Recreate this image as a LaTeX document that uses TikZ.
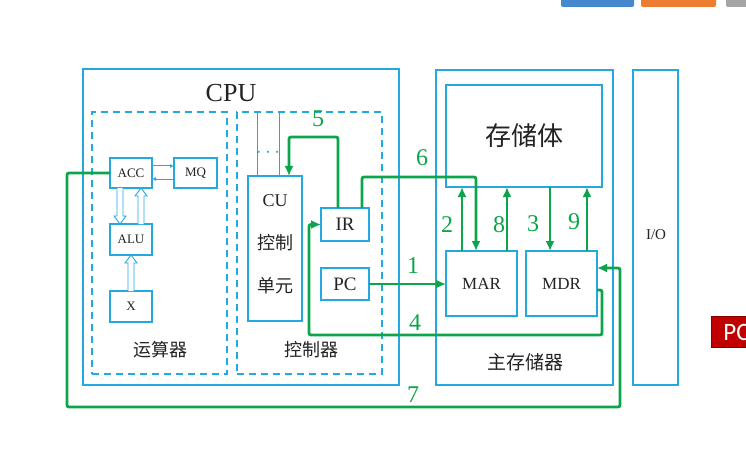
\documentclass[tikz,border=0pt]{standalone}
\usepackage{fontspec}
\setmainfont{Liberation Serif}
\newfontfamily\cjk{Noto Sans CJK SC}
\newfontfamily\slidesans{Carlito}
\usetikzlibrary{arrows.meta,calc}
\definecolor{bl}{RGB}{35,168,224}
\definecolor{gr}{RGB}{12,165,75}
\definecolor{tx}{RGB}{35,35,35}
\definecolor{barblue}{RGB}{68,136,206}
\definecolor{barorange}{RGB}{237,125,49}
\definecolor{bargray}{RGB}{165,165,165}
\definecolor{pcred}{RGB}{192,0,0}
\newcommand\hollowarrow[2]{%
  \draw[hol] let \p1=(#1), \p2=(#2), \n1={sign(\y1-\y2)*8} in
    (\x1-3pt,\y1) -- (\x1-3pt,\y2+\n1*1pt) -- (\x1-6pt,\y2+\n1*1pt) -- (\x2,\y2)
    -- (\x1+6pt,\y2+\n1*1pt) -- (\x1+3pt,\y2+\n1*1pt) -- (\x1+3pt,\y1);}
\begin{document}
\begin{tikzpicture}[x=1pt,y=-1pt,
  big/.style={draw=bl,line width=1.8pt,rectangle,inner sep=0pt,outer sep=0pt},
  reg/.style={draw=bl,line width=1.3pt,rectangle,inner sep=0pt,outer sep=0pt,text=tx},
  dbox/.style={draw=bl,line width=1.4pt,dash pattern=on 7pt off 5pt,rectangle,inner sep=0pt,outer sep=0pt},
  garr/.style={draw=gr,line width=2.8pt,rounded corners=2pt,-{Latex[length=10pt,width=9pt]}},
  num/.style={text=gr,inner sep=0pt,font=\fontsize{24}{24}\selectfont},
  thinarr/.style={draw=bl,line width=1pt,-{Latex[length=4pt,width=4pt]}},
  hol/.style={draw=bl,line width=0.9pt,fill=white},
  lbl/.style={text=tx,inner sep=0pt}
]
\fill[white] (0,0) rectangle (746,449);
\useasboundingbox (0,0) rectangle (746,449);

% slide artifacts
\begin{scope}
\clip (0,0) rectangle (746,449);
\fill[barblue,rounded corners=2pt] (561,-10) rectangle (634,7);
\fill[barorange,rounded corners=2pt] (641,-10) rectangle (716,7);
\fill[bargray,rounded corners=2pt] (726,-10) rectangle (770,7);
\node[fill=pcred,draw=pcred!70!black,line width=0.8pt,anchor=west,minimum height=31pt,
      inner xsep=12pt,text=white,font=\slidesans\fontsize{25}{25}\selectfont] (pcslide) at (711,332) {PC\hspace{20pt}};
\end{scope}

% CPU
\node[big,minimum width=316pt,minimum height=316pt] (cpu) at (241,227) {};
\node[lbl,font=\fontsize{26}{26}\selectfont] (cpulbl) at (231,93) {CPU};
\node[dbox,minimum width=135pt,minimum height=262pt] (alubox) at (159.5,243) {};
\node[dbox,minimum width=145pt,minimum height=262pt] (ctlbox) at (309.5,243) {};
\node[lbl,font=\cjk\fontsize{18}{18}\selectfont] (alulbl) at (160,350) {运算器};
\node[lbl,font=\cjk\fontsize{18}{18}\selectfont] (ctllbl) at (311,350) {控制器};

% ALU side
\node[reg,minimum width=42pt,minimum height=30pt,font=\fontsize{13}{13}\selectfont] (acc) at (131,173) {ACC};
\node[reg,minimum width=43pt,minimum height=30pt,font=\fontsize{13}{13}\selectfont] (mq) at (195.5,173) {MQ};
\node[reg,minimum width=42pt,minimum height=31pt,font=\fontsize{13}{13}\selectfont] (alu) at (131,239.5) {ALU};
\node[reg,minimum width=42pt,minimum height=31pt,font=\fontsize{13}{13}\selectfont] (xreg) at (131,306.5) {X};
\draw[thinarr] ($(acc.east)+(0,-7)$) -- ($(mq.west)+(0,-7)$);
\draw[thinarr] ($(mq.west)+(0,6)$) -- ($(acc.east)+(0,6)$);
\hollowarrow{$(acc.south)+(-11,0)$}{$(alu.north)+(-11,0)$}
\hollowarrow{$(alu.north)+(10,0)$}{$(acc.south)+(10,0)$}
\hollowarrow{$(xreg.north)$}{$(alu.south)$}

% control side
\node[reg,minimum width=54pt,minimum height=145pt] (cu) at (275,248.5) {};
\node[lbl,align=center,font=\fontsize{18}{43}\selectfont] (cutxt) at (275,244) {CU\\{\cjk 控制}\\{\cjk 单元}};
\coordinate (cul) at ($(cu.north west)+(9,0)$);
\coordinate (cur) at ($(cu.north west)+(31,0)$);
\draw[bl,line width=1pt] (cul) -- (cul |- ctlbox.north);
\draw[bl,line width=1pt] (cur) -- (cur |- ctlbox.north);
\node[text=bl,inner sep=0pt,font=\fontsize{20}{20}\selectfont] (dots) at (268,153) {$\cdots$};
\node[reg,minimum width=48pt,minimum height=33pt,font=\fontsize{19}{19}\selectfont] (ir) at (345,224.5) {IR};
\node[reg,minimum width=48pt,minimum height=32pt,font=\fontsize{19}{19}\selectfont] (pc) at (345,284) {PC};

% main memory
\node[big,minimum width=177pt,minimum height=315pt] (mem) at (524.5,227.5) {};
\node[lbl,font=\cjk\fontsize{19}{19}\selectfont] (memlbl) at (525,362) {主存储器};
\node[reg,minimum width=156pt,minimum height=102pt,font=\cjk\fontsize{26}{26}\selectfont] (body) at (524,136) {存储体};
\node[reg,minimum width=71pt,minimum height=65pt,font=\fontsize{17}{17}\selectfont] (mar) at (481.5,283.5) {MAR};
\node[reg,minimum width=71pt,minimum height=65pt,font=\fontsize{17}{17}\selectfont] (mdr) at (561.5,283.5) {MDR};

% I/O
\node[big,minimum width=45pt,minimum height=315pt] (io) at (655.5,227.5) {};
\node[lbl,font=\fontsize{15}{15}\selectfont] (iolbl) at (656,235) {I/O};

% green connectors
\coordinate (a2) at ($(mar.north west)+(16,0)$);
\coordinate (a6) at ($(mar.north west)+(30,0)$);
\coordinate (a8) at ($(mar.north west)+(61,0)$);
\coordinate (a3) at ($(mdr.north west)+(24,0)$);
\coordinate (a9) at ($(mdr.north west)+(61,0)$);
\draw[garr] (pc.east) -- (pc.east -| mar.west);
\draw[garr] (a2) -- (a2 |- body.south);
\draw[garr] (a8) -- (a8 |- body.south);
\draw[garr] (a3 |- body.south) -- (a3);
\draw[garr] (a9) -- (a9 |- body.south);
\draw[garr] ($(ir.north west)+(17,0)$) |- ($(cu.north west)+(41,-39)$) -- ($(cu.north west)+(41,0)$);
\draw[garr] ($(ir.north east)+(-7,0)$) |- ($(a6)+(0,-74)$) -- (a6);
\draw[garr] ($(mdr.east)+(0,6.5)$) -- ++(5,0) -- ++(0,45) -| ($(ir.west)+(-12,0)$) -- (ir.west);
\draw[garr] (acc.west) -- ++(-43,0) -- ++(0,234) -- ++(553,0) |- ($(mdr.east)+(0,-15.5)$);

% numbers
\node[num] (n1) at (413,266) {1};
\node[num] (n2) at (447,225) {2};
\node[num] (n3) at (533,224) {3};
\node[num] (n4) at (415,323) {4};
\node[num] (n5) at (318,119) {5};
\node[num] (n6) at (422,158) {6};
\node[num] (n7) at (413,395) {7};
\node[num] (n8) at (499,225) {8};
\node[num] (n9) at (574,222) {9};
\end{tikzpicture}
\end{document}
